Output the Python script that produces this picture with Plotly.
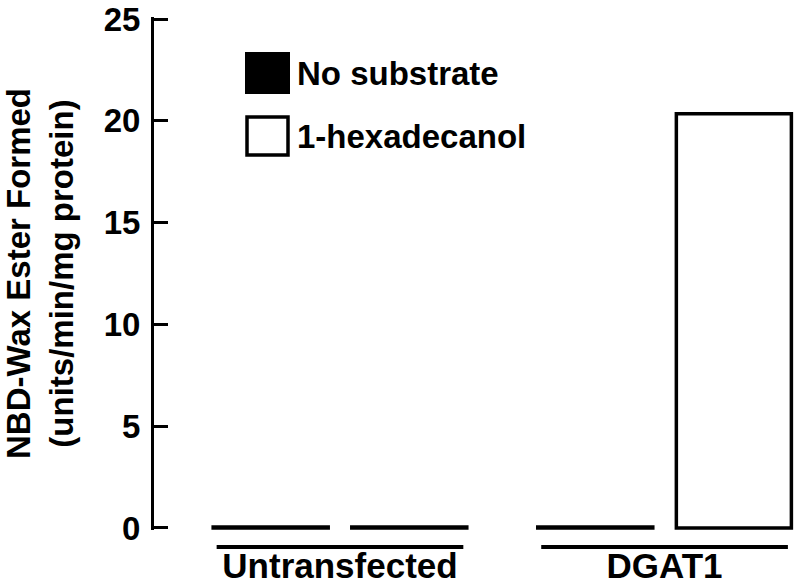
import plotly.graph_objects as go

categories = ["Untransfected", "DGAT1"]
series_names = ["No substrate", "1-hexadecanol"]
no_substrate = [0.05, 0.05]
hexadecanol = [0.05, 20.35]
y_ticks = [0, 5, 10, 15, 20, 25]

FONT = "Liberation Sans, Arial, sans-serif"

fig = go.Figure()
fig.add_trace(go.Bar(x=categories, y=no_substrate, name=series_names[0],
                     marker=dict(color="black", line=dict(color="black", width=3.5)),
                     cliponaxis=False))
fig.add_trace(go.Bar(x=categories, y=hexadecanol, name=series_names[1],
                     marker=dict(color="white", line=dict(color="black", width=3.5)),
                     cliponaxis=False))

W, H = 797, 587
Y_MIN, Y_MAX = -0.1, 25.1
# pixel positions of y=0 and y=25 in the page
y0_px, y25_px = 528, 19
unit = (y0_px - y25_px) / 25.0
plot_top = y25_px - (Y_MAX - 25) * unit
plot_bottom = y0_px + (0 - Y_MIN) * unit
plot_left, plot_right = 154, 797
ml, mr = plot_left, W - plot_right
mt, mb = plot_top, H - plot_bottom
pw, ph = plot_right - plot_left, plot_bottom - plot_top

def px(x):
    return (x - plot_left) / pw

def py(y):
    return (plot_bottom - y) / ph

shapes = []
# group brackets under each category
for i, _ in enumerate(categories):
    shapes.append(dict(type="line", xref="x", yref="paper", x0=i - 0.38, x1=i + 0.38,
                       y0=py(547), y1=py(547), line=dict(color="black", width=4)))
# legend squares
shapes.append(dict(type="rect", xref="paper", yref="paper", x0=px(246), x1=px(289),
                   y0=py(93), y1=py(53), fillcolor="black", line=dict(color="black", width=2)))
shapes.append(dict(type="rect", xref="paper", yref="paper", x0=px(247), x1=px(288),
                   y0=py(155), y1=py(117), fillcolor="white", line=dict(color="black", width=3.5)))

annotations = [
    dict(text=series_names[0], xref="paper", yref="paper", x=px(295), y=py(73),
         xanchor="left", yanchor="middle", showarrow=False,
         font=dict(family=FONT, size=33, color="black", weight="bold")),
    dict(text=series_names[1], xref="paper", yref="paper", x=px(295), y=py(136),
         xanchor="left", yanchor="middle", showarrow=False,
         font=dict(family=FONT, size=33, color="black", weight="bold")),
]

fig.update_layout(
    width=W, height=H,
    margin=dict(l=ml, r=mr, t=mt, b=mb, autoexpand=False),
    paper_bgcolor="white", plot_bgcolor="white",
    barmode="group", bargap=0.146, bargroupgap=0.17,
    showlegend=False,
    shapes=shapes, annotations=annotations,
    font=dict(family=FONT, color="black"),
)
fig.update_xaxes(range=[-0.573, 1.408], showline=False, showgrid=False, zeroline=False,
                 ticks="", tickfont=dict(family=FONT, size=35, color="black", weight="bold"),
                 ticklabelstandoff=12)
fig.update_yaxes(range=[Y_MIN, Y_MAX], tickvals=y_ticks, showline=True, linewidth=3, linecolor="black",
                 ticks="inside", ticklen=14, tickwidth=3, tickcolor="black",
                 showgrid=False, zeroline=False, ticklabeloverflow="allow",
                 tickfont=dict(family=FONT, size=33, color="black", weight="bold"),
                 ticklabelstandoff=4,
                 title=dict(text="NBD-Wax Ester Formed<br>(units/min/mg protein)",
                            font=dict(family=FONT, size=33, color="black", weight="bold"),
                            standoff=35))

fig.write_html("out.html", config={"displayModeBar": False},
               post_script="document.body.style.margin='0';")
